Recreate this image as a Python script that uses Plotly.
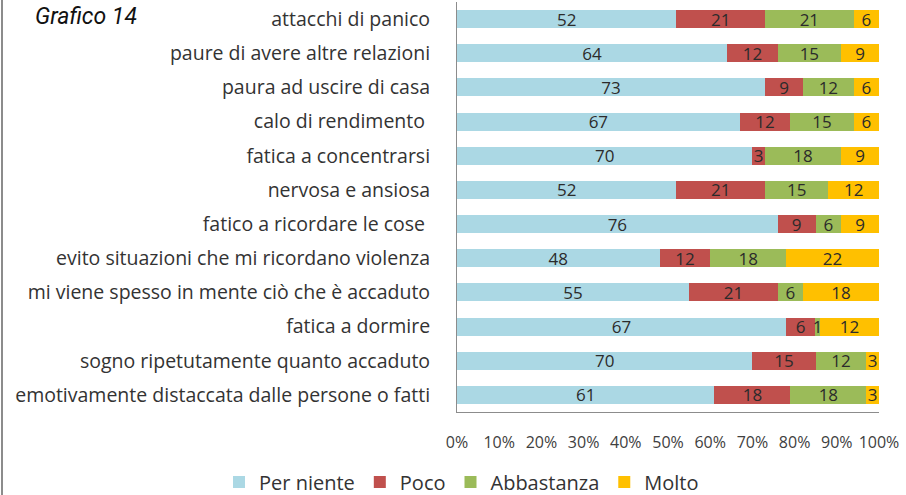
import plotly.graph_objects as go

categories = [
    "attacchi di panico",
    "paure di avere altre relazioni",
    "paura ad uscire di casa",
    "calo di rendimento ",
    "fatica a concentrarsi",
    "nervosa e ansiosa",
    "fatico a ricordare le cose ",
    "evito situazioni che mi ricordano violenza",
    "mi viene spesso in mente ciò che è accaduto",
    "fatica a dormire",
    "sogno ripetutamente quanto accaduto",
    "emotivamente distaccata dalle persone o fatti",
]
per_niente = [52, 64, 73, 67, 70, 52, 76, 48, 55, 67, 70, 61]
poco = [21, 12, 9, 12, 3, 21, 9, 12, 21, 6, 15, 18]
abbastanza = [21, 15, 12, 15, 18, 15, 6, 18, 6, 1, 12, 18]
molto = [6, 9, 6, 6, 9, 12, 9, 22, 18, 12, 3, 3]

series = [
    ("Per niente", per_niente, "#ABD8E4"),
    ("Poco", poco, "#C0504D"),
    ("Abbastanza", abbastanza, "#9BBB59"),
    ("Molto", molto, "#FFC000"),
]

FONT = "Open Sans, Noto Sans, DejaVu Sans, sans-serif"

fig = go.Figure()
for name, vals, col in series:
    fig.add_trace(go.Bar(
        name=name, y=categories, x=vals, orientation="h",
        marker=dict(color=col, line=dict(width=0)),
        text=[str(v) for v in vals], textposition="inside",
        insidetextanchor="middle", textangle=0,
        textfont=dict(family=FONT, size=17, color="#2b2b2b"),
    ))

fig.update_layout(
    width=906, height=495,
    barmode="stack", barnorm="percent", bargap=0.47,
    paper_bgcolor="white", plot_bgcolor="white",
    margin=dict(l=457, r=27, t=2, b=83, autoexpand=False),
    font=dict(family=FONT, color="#333333"),
    uniformtext=dict(minsize=17, mode="show"),
    showlegend=True,
    legend=dict(
        orientation="h", xref="paper", yref="paper",
        x=(219 - 457) / 422, xanchor="left", y=(412 - 482) / 410, yanchor="middle",
        font=dict(size=20, color="#333333"),
        traceorder="normal", itemwidth=30,
    ),
    xaxis=dict(
        range=[0, 100], dtick=10, ticksuffix="%", showgrid=False, zeroline=False,
        showline=True, linecolor="#8c8c8c", linewidth=1, automargin=False,
        ticks="outside", ticklen=0, ticklabelstandoff=16,
        tickfont=dict(size=16, color="#404040", family=FONT),
    ),
    yaxis=dict(
        autorange="reversed", showgrid=False, showline=True, automargin=False,
        linecolor="#8c8c8c", linewidth=1,
        ticks="outside", ticklen=0, ticklabelstandoff=22,
        tickfont=dict(size=19.5, color="#333333", family=FONT),
    ),
    annotations=[dict(
        text="<i>Grafico 14</i>", xref="paper", yref="paper",
        x=(33 - 457) / 422, y=(412 - 16) / 410, xanchor="left", yanchor="middle",
        showarrow=False,
        font=dict(family="Roboto, sans-serif", size=23, color="#111111"),
    )],
    shapes=[dict(
        type="line", xref="paper", yref="paper",
        x0=(2 - 457) / 422, x1=(2 - 457) / 422, y0=(412 - 0) / 410, y1=(412 - 495) / 410,
        line=dict(color="#8c8c8c", width=2),
    )],
)

fig.write_html(
    "out.html",
    config={"displayModeBar": False},
    post_script="document.body.style.margin='0';document.body.style.overflow='hidden';",
)
